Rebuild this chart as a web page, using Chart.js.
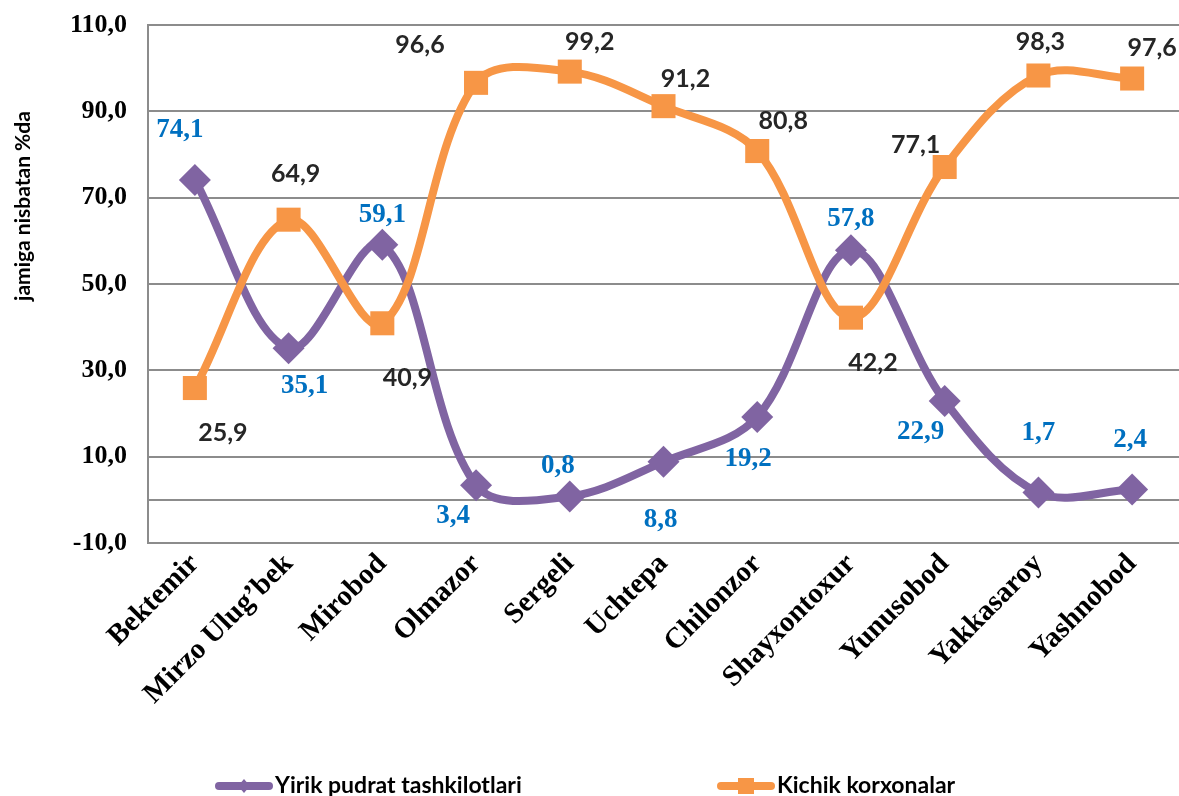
<!DOCTYPE html>
<html lang="uz">
<head>
  <meta charset="UTF-8" />
  <title>Yirik pudrat tashkilotlari va kichik korxonalar</title>
  <script src="https://cdn.jsdelivr.net/npm/chart.js"></script>
  <style>
    html, body { margin: 0; padding: 0; background: #fff; }
    #wrap { width: 1179px; height: 796px; position: relative; }
  </style>
</head>
<body>
<div id="wrap"><canvas id="chart"></canvas></div>

<script>
  // Tumanlar va ulushlar (%)
  const tumanlar = ['Bektemir', 'Mirzo Ulug’bek', 'Mirobod', 'Olmazor', 'Sergeli', 'Uchtepa',
                    'Chilonzor', 'Shayxontoxur', 'Yunusobod', 'Yakkasaroy', 'Yashnobod'];
  const yirik  = [74.1, 35.1, 59.1, 3.4, 0.8, 8.8, 19.2, 57.8, 22.9, 1.7, 2.4];
  const kichik = [25.9, 64.9, 40.9, 96.6, 99.2, 91.2, 80.8, 42.2, 77.1, 98.3, 97.6];
  const yTicks = [-10, 10, 30, 50, 70, 90, 110];
  const yTitle = 'jamiga nisbatan %da';
  const seriesNames = ['Yirik pudrat tashkilotlari', 'Kichik korxonalar'];

  const purple = '#8064A2';
  const orange = '#F79646';

  const fmt = v => v.toFixed(1).replace('.', ',');

  // label offsets from each point (as placed in the original)
  const yirikLabelOff  = [[-15,-50],[16,38],[0,-30],[-23,31],[-12,-30],[-3,58],[-9,42],[0,-31],[-24,31],[0,-59],[-2,-49]];
  const kichikLabelOff = [[28,45],[7,-46],[25,55],[-56,-38],[20,-30],[22,-27],[26,-30],[22,45],[-29,-22],[2,-34],[20,-31]];

  const valueLabels = {
    id: 'valueLabels',
    afterDatasetsDraw(chart, args, opts) {
      const ctx = chart.ctx;
      chart.data.datasets.forEach((ds, di) => {
        const meta = chart.getDatasetMeta(di);
        const st = opts.styles[di];
        ctx.save();
        ctx.font = st.font;
        ctx.fillStyle = st.color;
        ctx.textAlign = 'center';
        ctx.textBaseline = 'middle';
        meta.data.forEach((pt, i) => {
          const off = st.offsets[i];
          ctx.fillText(fmt(ds.data[i]), pt.x + off[0], pt.y + off[1]);
        });
        ctx.restore();
      });
    }
  };

  const sideTitle = {
    id: 'sideTitle',
    afterDraw(chart) {
      const ctx = chart.ctx;
      ctx.save();
      ctx.translate(23, 206);
      ctx.rotate(-Math.PI / 2);
      ctx.font = 'bold 21px Lato';
      ctx.fillStyle = '#000';
      ctx.textAlign = 'center';
      ctx.textBaseline = 'middle';
      ctx.fillText(yTitle, 0, 0);
      ctx.restore();
    }
  };

  const bottomLegend = {
    id: 'bottomLegend',
    afterDraw(chart) {
      const ctx = chart.ctx;
      const y = 786;
      const items = [
        { x: 215, color: purple, marker: 'diamond', text: seriesNames[0] },
        { x: 717, color: orange, marker: 'square', text: seriesNames[1] }
      ];
      items.forEach(it => {
        ctx.save();
        ctx.strokeStyle = it.color;
        ctx.fillStyle = it.color;
        ctx.lineWidth = 8;
        ctx.lineCap = 'round';
        ctx.beginPath();
        ctx.moveTo(it.x + 4, y);
        ctx.lineTo(it.x + 54, y);
        ctx.stroke();
        const cx = it.x + 29;
        ctx.beginPath();
        if (it.marker === 'diamond') {
          ctx.moveTo(cx, y - 7); ctx.lineTo(cx + 6, y); ctx.lineTo(cx, y + 7); ctx.lineTo(cx - 6, y);
        } else {
          ctx.rect(cx - 8, y - 8, 16, 16);
        }
        ctx.fill();
        ctx.font = 'bold 23px Lato';
        ctx.fillStyle = '#000';
        ctx.textAlign = 'left';
        ctx.textBaseline = 'middle';
        ctx.fillText(it.text, it.x + 60, y);
        ctx.restore();
      });
    }
  };

  new Chart(document.getElementById('chart'), {
    type: 'line',
    data: {
      labels: tumanlar,
      datasets: [
        {
          label: seriesNames[0],
          data: yirik,
          borderColor: purple,
          backgroundColor: purple,
          borderWidth: 8,
          tension: 0.35,
          pointStyle: 'rectRot',
          pointRadius: 16,
          pointBorderWidth: 0,
          order: 1
        },
        {
          label: seriesNames[1],
          data: kichik,
          borderColor: orange,
          backgroundColor: orange,
          borderWidth: 8,
          tension: 0.35,
          pointStyle: 'rect',
          pointRadius: 17,
          pointBorderWidth: 0,
          order: 0
        }
      ]
    },
    options: {
      responsive: true,
      maintainAspectRatio: false,
      animation: false,
      layout: { autoPadding: false, padding: { top: 25, right: 0, bottom: 0, left: 0 } },
      plugins: {
        legend: { display: false },
        tooltip: { enabled: false },
        valueLabels: {
          styles: [
            { font: 'bold 27px "Liberation Serif"', color: '#0070C0', offsets: yirikLabelOff },
            { font: 'bold 25px Lato', color: '#262626', offsets: kichikLabelOff }
          ]
        }
      },
      scales: {
        x: {
          offset: true,
          grid: { display: false, drawTicks: false },
          border: { display: false },
          ticks: {
            autoSkip: false,
            minRotation: 45,
            maxRotation: 45,
            padding: 4,
            color: '#000',
            font: { family: '"Liberation Serif"', weight: 'bold', size: 29 }
          },
          afterFit(scale) {
            scale.height = 253;
            scale.paddingLeft = 0;
            scale.paddingRight = 0;
          }
        },
        y: {
          min: -10,
          max: 110,
          afterBuildTicks(scale) {
            scale.ticks = yTicks.concat([0]).sort((a, b) => a - b).map(v => ({ value: v }));
          },
          grid: { color: '#8c8c8c', lineWidth: 2, drawTicks: false },
          border: { display: true, color: '#8c8c8c', width: 2 },
          ticks: {
            padding: 21,
            color: '#000',
            font: { family: '"Liberation Serif"', weight: 'bold', size: 26 },
            callback: v => v === 0 ? '' : fmt(v)
          },
          afterFit(scale) {
            scale.width = 148;
            scale.paddingTop = 0;
            scale.paddingBottom = 0;
          }
        }
      }
    },
    plugins: [valueLabels, sideTitle, bottomLegend]
  });
</script>
</body>
</html>
